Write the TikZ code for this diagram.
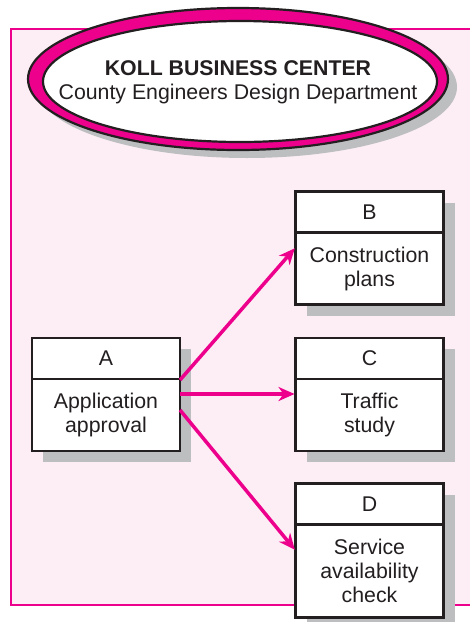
\documentclass[tikz,border=0pt]{standalone}
\usepackage{fontspec}
\setmainfont{Liberation Sans}
\usetikzlibrary{arrows.meta, positioning, shadows}
\definecolor{kollmagenta}{HTML}{EC008C}
\definecolor{kollpink}{HTML}{FDEEF5}
\definecolor{kollshadow}{HTML}{BCBEC0}
\definecolor{kollink}{HTML}{231F20}

\begin{document}
\begin{tikzpicture}[
    x=1pt, y=-1pt,
    font=\fontsize{21.3}{24}\selectfont,
    text=kollink,
    taskhead/.style={rectangle, draw=kollink, line width=2.8pt, fill=white, minimum width=148pt, minimum height=41pt, outer sep=0pt, inner sep=0pt, drop shadow={shadow xshift=11pt, shadow yshift=-11pt, fill=kollshadow, opacity=1}},
    taskbody/.style={taskhead, minimum height=72pt, align=center},
    arrow/.style={-{Stealth[length=16pt, width=14pt, inset=5pt]}, line width=3.5pt, draw=kollmagenta, shorten >=1pt},
]

\useasboundingbox (0,0) rectangle (470,622);
\filldraw[fill=kollpink, draw=kollmagenta, line width=2.5pt] (11,29) rectangle (490,605);

% title oval
\fill[kollshadow] (247,87) ellipse [x radius=210pt, y radius=71pt];
\filldraw[fill=kollmagenta, draw=kollink, line width=2.2pt] (238,79) ellipse [x radius=210pt, y radius=71pt];
\filldraw[fill=white, draw=kollink, line width=2.2pt] (240,81.5) ellipse [x radius=197pt, y radius=60.5pt];
\node[align=center] (title) at (238,82) {\textbf{KOLL BUSINESS CENTER}\\County Engineers Design Department};

% activities
\node[taskhead] (a) at (106,358.5) {A};
\node[taskbody, below=0pt of a] (a body) {Application\\approval};
\node[taskhead] (b) at (369.5,212) {B};
\node[taskbody, below=0pt of b] (b body) {Construction\\plans};
\node[taskhead] (c) at (369.5,358.5) {C};
\node[taskbody, below=0pt of c] (c body) {Traffic\\study};
\node[taskhead] (d) at (369.5,504) {D};
\node[taskbody, below=0pt of d, minimum height=93pt] (d body) {Service\\availability\\check};

\draw[arrow] ([yshift=-1pt]a body.north east) -- ([yshift=-15pt]b body.north west);
\draw[arrow] ([yshift=-15pt]a body.north east) -- ([yshift=-15pt]c body.north west);
\draw[arrow] ([yshift=-31pt]a body.north east) -- ([yshift=-26pt]d body.north west);

\end{tikzpicture}
\end{document}
